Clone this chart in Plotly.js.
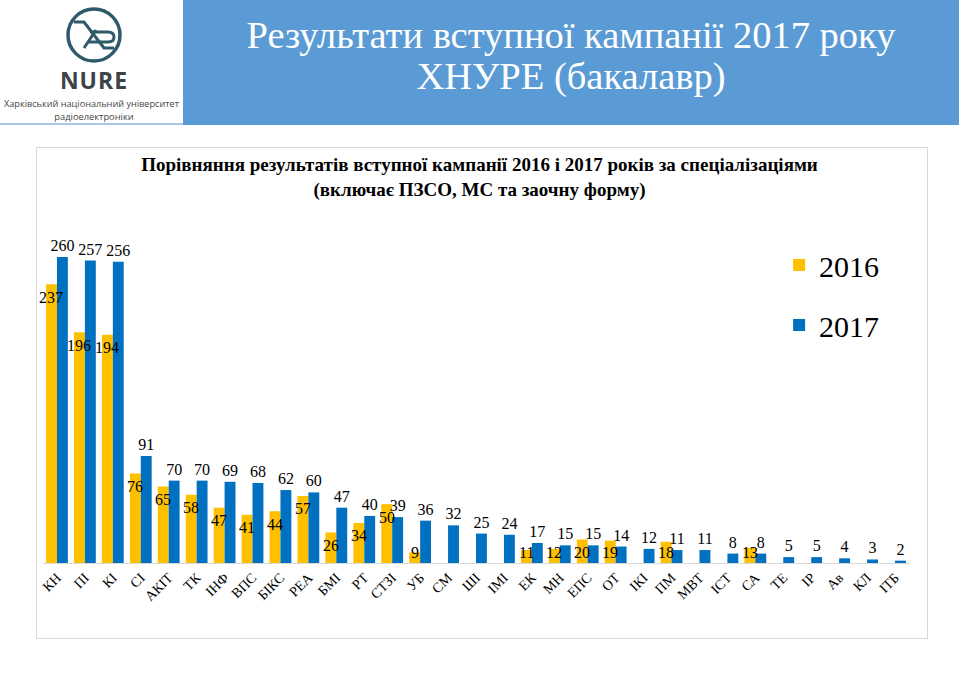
<!DOCTYPE html>
<html><head><meta charset="utf-8">
<script src="https://cdn.plot.ly/plotly-3.0.1.min.js"></script>
<style>
html,body{margin:0;padding:0;background:#fff;width:959px;height:677px;overflow:hidden;}
#header{position:absolute;left:0;top:0;width:959px;height:125px;}
#logo{position:absolute;left:0;top:0;width:183px;height:123px;background:#fff;border-bottom:2px solid #a8c7e8;}
#band{position:absolute;left:183px;top:0;width:776px;height:125px;background:#5b9bd5;}
#htitle{position:absolute;left:183px;top:15px;width:776px;text-align:center;color:#fff;font-family:"Liberation Serif",serif;font-size:38.5px;line-height:41px;}
#box{position:absolute;left:36px;top:147px;width:890px;height:490px;border:1px solid #d9d9d9;}
#chart{position:absolute;left:0;top:0;width:959px;height:677px;}
</style></head>
<body>
<div id="header">
  <div id="logo">
    <svg width="183" height="123" viewBox="0 0 183 123">
      <circle cx="94" cy="35" r="26" fill="none" stroke="#2f5a6b" stroke-width="3.5"/>
      <path d="M74,22 L84,22 L104,48 L114,48" fill="none" stroke="#2f5a6b" stroke-width="3"/>
      <path d="M84,48 L96,30" fill="none" stroke="#2f5a6b" stroke-width="3"/>
      <path d="M90,32 L108,32 Q114,32 114,37 Q114,42 108,42 L88,42" fill="none" stroke="#2f5a6b" stroke-width="3"/>
      <text x="94" y="89" text-anchor="middle" font-family="Open Sans, sans-serif" font-weight="700" font-size="23" fill="#3d4347" letter-spacing="1">NURE</text>
      <text x="4" y="107" textLength="175" lengthAdjust="spacingAndGlyphs" font-family="Open Sans, sans-serif" font-size="9.3" fill="#444">Харківський національний університет</text>
      <text x="94" y="120" text-anchor="middle" font-family="Open Sans, sans-serif" font-size="9.3" fill="#444">радіоелектроніки</text>
    </svg>
  </div>
  <div id="band"></div>
  <div id="htitle">Результати вступної кампанії 2017 року<br>ХНУРЕ (бакалавр)</div>
</div>
<div id="box"></div>
<div id="chart"></div>
<script>
const categories = ["КН","ПІ","КІ","СІ","АКІТ","ТК","ІНФ","ВПС","БІКС","РЕА","БМІ","РТ","СТЗІ","УБ","СМ","ШІ","ІМІ","ЕК","МН","ЕПС","ОТ","ІКІ","ПМ","МВТ","ІСТ","СА","ТЕ","ІР","Ав","КЛ","ІТБ"];
const values2016 = [237,196,194,76,65,58,47,41,44,57,26,34,50,9,null,null,null,11,12,20,19,null,18,null,null,13,null,null,null,null,null];
const values2017 = [260,257,256,91,70,70,69,68,62,60,47,40,39,36,32,25,24,17,15,15,14,12,11,11,8,8,5,5,4,3,2];
const seriesNames = ["2016","2017"];

const serif = "Liberation Serif, serif";
const labelFont = {family:serif, size:16, color:"#000"};
const barW = 0.39;

const t2016 = {
  type:"bar", name:seriesNames[0], x:categories, y:values2016,
  width:barW, offset:-barW,
  marker:{color:"#FFC000"}, hoverinfo:"x+y", legendgroup:"a"
};
const t2017 = {
  type:"bar", name:seriesNames[1], x:categories, y:values2017,
  width:barW, offset:0,
  marker:{color:"#0070C0"},
  text:values2017.map(v => String(v)),
  textposition:"outside", textangle:0, constraintext:"none",
  outsidetextfont:labelFont, textfont:labelFont, cliponaxis:false,
  hoverinfo:"x+y", legendgroup:"b"
};

// 2016 labels sit inside the bar end, drawn on top of everything
const annotations2016 = [];
categories.forEach((c, i) => {
  const v = values2016[i];
  if (v == null) return;
  annotations2016.push({
    x:c, y:Math.max(v, 20), xref:"x", yref:"y",
    text:String(v), showarrow:false, font:labelFont,
    xanchor:"center", yanchor:"middle", xshift:-5.5, yshift:-13
  });
});

const layout = {
  width:959, height:677,
  paper_bgcolor:"rgba(0,0,0,0)", plot_bgcolor:"rgba(0,0,0,0)",
  margin:{l:43, r:50, t:230, b:114, pad:0},
  barmode:"overlay",
  title:{
    text:"<b>Порівняння результатів вступної кампанії 2016 і 2017 років за спеціалізаціями<br>(включає ПЗСО, МС та заочну форму)</b>",
    font:{family:serif, size:19, color:"#000"},
    x:0.5, xanchor:"center", xref:"container", yref:"container", y:1-171/677, yanchor:"top"
  },
  xaxis:{
    type:"category", range:[-0.5, categories.length-0.5], showline:true, linecolor:"#d9d9d9", linewidth:1,
    ticks:"", tickangle:-45, showgrid:false, zeroline:false, automargin:false,
    tickfont:{family:serif, size:14, color:"#000"}
  },
  yaxis:{range:[0,283], visible:false, showgrid:false, zeroline:false, automargin:false},
  showlegend:true,
  legend:{
    x:0.85, xanchor:"left", y:0.973, yanchor:"top", yref:"paper",
    font:{family:serif, size:30, color:"#000"},
    tracegroupgap:18, bgcolor:"rgba(0,0,0,0)", traceorder:"grouped"
  },
  annotations:annotations2016
};
Plotly.newPlot("chart", [t2016, t2017], layout, {displayModeBar:false, staticPlot:true});
</script>
</body></html>
